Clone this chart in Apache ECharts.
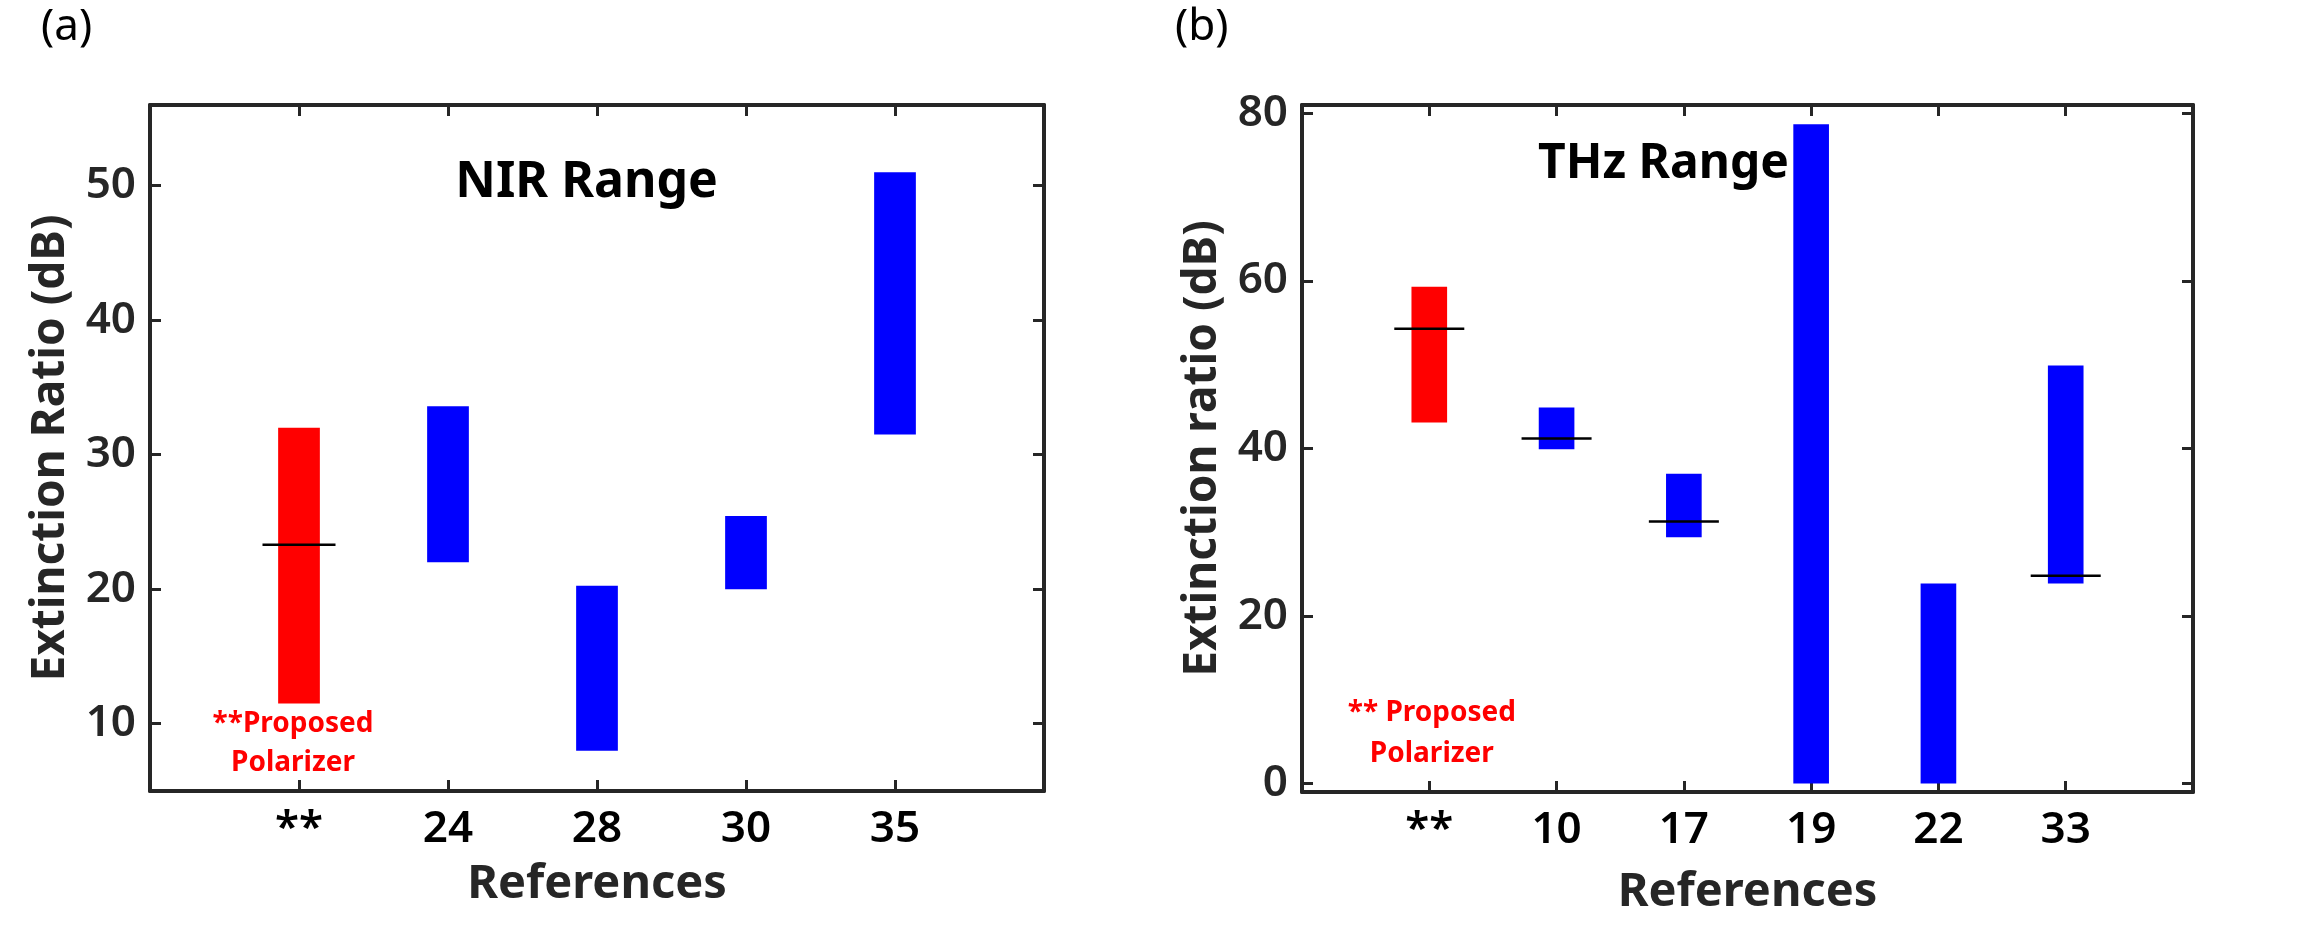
<!DOCTYPE html>
<html>
<head>
<meta charset="utf-8">
<script src="https://cdn.jsdelivr.net/npm/echarts@6/dist/echarts.min.js"></script>
<style>
  html, body { margin: 0; padding: 0; background: #fff; }
  #main { width: 2302px; height: 929px; }
</style>
</head>
<body>
<div id="main"></div>
<script>
// (a) NIR range
const catsA = ['**', '24', '28', '30', '35'];
const lowA = [11.5, 22.0, 8.0, 20.0, 31.5];
const highA = [32.0, 33.6, 20.25, 25.45, 51.0];
const meanA = [23.3, null, null, null, null];
const yTicksA = [10, 20, 30, 40, 50];

// (b) THz range
const catsB = ['**', '10', '17', '19', '22', '33'];
const lowB = [43.1, 39.9, 29.4, 0, 0, 23.9];
const highB = [59.3, 44.9, 37.0, 78.7, 23.9, 49.9];
const meanB = [54.3, 41.2, 31.3, null, null, 24.8];
const yTicksB = [0, 20, 40, 60, 80];

const FONT = 'Noto Sans';
const DARK = '#262626';

var chartDom = document.getElementById('main');
var myChart = echarts.init(chartDom);

function pos(cats) {
	return cats.map((c, i) => i + 1);
}

function barData(low, high) {
	return low.map((lo, i) => [i + 1, lo, high[i]]);
}

function meanData(mean) {
	return mean.map((m, i) => [i + 1, m]).filter((d) => d[1] != null);
}

function barSeries(gi, low, high) {
	return {
		type: 'custom',
		xAxisIndex: gi * 2,
		yAxisIndex: gi * 2,
		data: barData(low, high),
		renderItem: (params, api) => {
			const x = api.value(0);
			const p1 = api.coord([x - 0.14, api.value(2)]);
			const p2 = api.coord([x + 0.14, api.value(1)]);
			return {
				type: 'rect',
				shape: { x: p1[0], y: p1[1], width: p2[0] - p1[0], height: p2[1] - p1[1] },
				style: { fill: params.dataIndex === 0 ? '#ff0000' : '#0000ff' },
			};
		},
		z: 2,
	};
}

function meanSeries(gi, mean, half) {
	return {
		type: 'custom',
		xAxisIndex: gi * 2,
		yAxisIndex: gi * 2,
		data: meanData(mean),
		renderItem: (params, api) => {
			const x = api.value(0);
			const p1 = api.coord([x - half, api.value(1)]);
			const p2 = api.coord([x + half, api.value(1)]);
			return {
				type: 'line',
				shape: { x1: p1[0], y1: p1[1], x2: p2[0], y2: p2[1] },
				style: { stroke: '#000', lineWidth: 2.5 },
			};
		},
		z: 3,
	};
}

function textSeries(gi, items) {
	return {
		type: 'scatter',
		xAxisIndex: gi * 2,
		yAxisIndex: gi * 2,
		symbolSize: 0,
		silent: true,
		itemStyle: { opacity: 1 },
		data: items.map((t) => ({
			value: [t.x, t.y],
			label: {
				show: true,
				position: 'inside',
				formatter: t.text,
				fontFamily: FONT,
				fontSize: t.size,
				fontWeight: t.weight,
				color: t.color,
				opacity: 1,
				textBorderWidth: 0,
				lineHeight: t.lh || t.size,
				align: 'center',
			},
		})),
		z: 4,
	};
}

function xAxes(gi, cats, max, nameGap) {
	const ticks = pos(cats);
	return [
		{
			type: 'value',
			gridIndex: gi,
			min: 0,
			max: max,
			position: 'bottom',
			name: 'References',
			nameLocation: 'middle',
			nameGap: nameGap,
			nameTextStyle: { fontFamily: FONT, fontSize: 47, fontWeight: 'bold', color: DARK },
			axisLine: { onZero: false, lineStyle: { color: DARK, width: 4 } },
			axisTick: { inside: true, length: 11, customValues: ticks, lineStyle: { color: DARK, width: 3 } },
			axisLabel: {
				customValues: ticks,
				formatter: (v) => cats[Math.round(v) - 1],
				margin: 16,
				fontFamily: FONT,
				fontSize: 44,
				fontWeight: 600,
				color: '#000',
			},
			splitLine: { show: false },
		},
		{
			type: 'value',
			gridIndex: gi,
			min: 0,
			max: max,
			position: 'top',
			axisLine: { onZero: false, lineStyle: { color: DARK, width: 4 } },
			axisTick: { inside: true, length: 11, customValues: ticks, lineStyle: { color: DARK, width: 3 } },
			axisLabel: { show: false },
			splitLine: { show: false },
		},
	];
}

function yAxes(gi, min, max, ticks, name) {
	return [
		{
			type: 'value',
			gridIndex: gi,
			min: min,
			max: max,
			position: 'left',
			name: name,
			nameLocation: 'middle',
			nameGap: 76,
			nameTextStyle: { fontFamily: FONT, fontSize: 46, fontWeight: 'bold', color: DARK },
			axisLine: { onZero: false, lineStyle: { color: DARK, width: 4 } },
			axisTick: { inside: true, length: 11, customValues: ticks, lineStyle: { color: DARK, width: 3 } },
			axisLabel: {
				customValues: ticks,
				margin: 14,
				fontFamily: FONT,
				fontSize: 44,
				fontWeight: 600,
				color: DARK,
			},
			splitLine: { show: false },
		},
		{
			type: 'value',
			gridIndex: gi,
			min: min,
			max: max,
			position: 'right',
			axisLine: { onZero: false, lineStyle: { color: DARK, width: 4 } },
			axisTick: { inside: true, length: 11, customValues: ticks, lineStyle: { color: DARK, width: 3 } },
			axisLabel: { show: false },
			splitLine: { show: false },
		},
	];
}

var option = {
	animation: false,
	backgroundColor: '#fff',
	title: [
		{ text: '(a)', left: 36, top: 0, textStyle: { fontFamily: FONT, fontSize: 44, fontWeight: 'normal', color: '#000' } },
		{ text: '(b)', left: 1170, top: 0, textStyle: { fontFamily: FONT, fontSize: 44, fontWeight: 'normal', color: '#000' } },
	],
	grid: [
		{ left: 150, top: 105, width: 894, height: 686 },
		{ left: 1302, top: 105, width: 891, height: 687 },
	],
	xAxis: [...xAxes(0, catsA, 6, 70), ...xAxes(1, catsB, 7, 77)],
	yAxis: [
		...yAxes(0, 5, 56, yTicksA, 'Extinction Ratio (dB)'),
		...yAxes(1, -1, 81, yTicksB, 'Extinction ratio (dB)'),
	],
	series: [
		barSeries(0, lowA, highA),
		meanSeries(0, meanA, 0.245),
		barSeries(1, lowB, highB),
		meanSeries(1, meanB, 0.275),
		textSeries(0, [
			{ x: 2.93, y: 50.2, text: 'NIR Range', size: 50, weight: 'bold', color: '#000' },
			{ x: 0.96, y: 8.55, text: '**Proposed\nPolarizer', size: 28, weight: 'bold', color: '#ff0000', lh: 39 },
		]),
		textSeries(1, [
			{ x: 2.84, y: 73.9, text: 'THz Range', size: 48, weight: 'bold', color: '#000' },
			{ x: 1.02, y: 6.0, text: '** Proposed\nPolarizer', size: 28, weight: 'bold', color: '#ff0000', lh: 41 },
		]),
	],
};

option && myChart.setOption(option);
</script>
</body>
</html>
